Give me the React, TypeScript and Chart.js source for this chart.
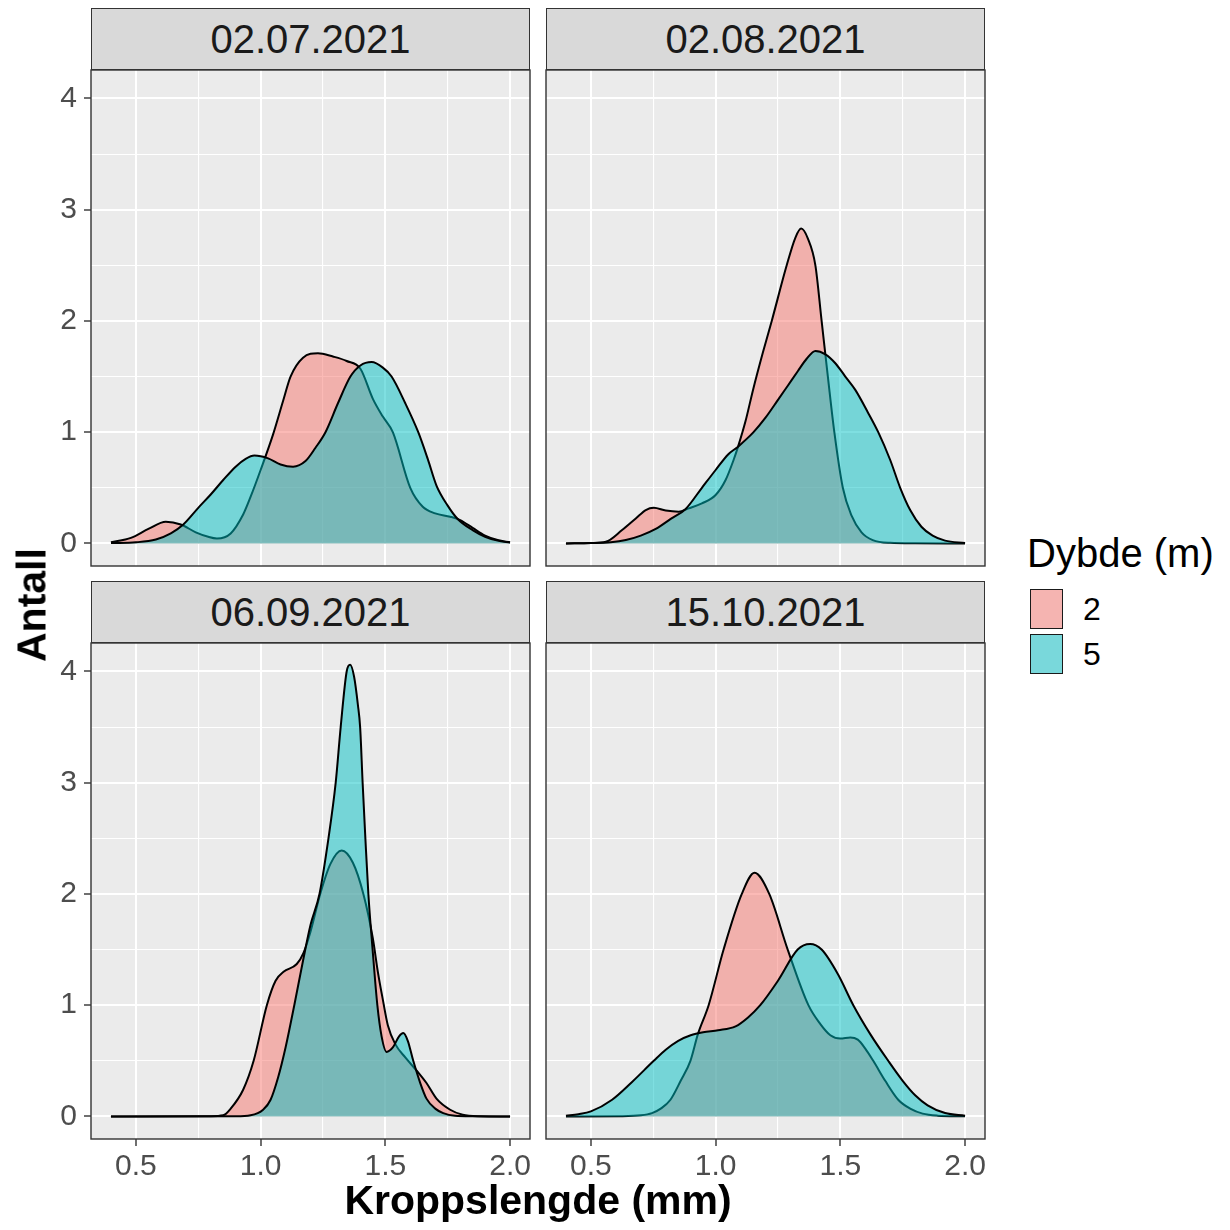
import React, { useEffect, useRef } from "react";
import { Chart, registerables } from "chart.js";

Chart.register(...registerables);

const FONT = '"Liberation Sans", Arial, Helvetica, sans-serif';

// Depth groups and their fills
const DEPTHS = ["2", "5"];
const DEPTH_FILLS = ["rgba(248,118,109,0.5)", "rgba(0,191,196,0.5)"];
const KEY_FILLS = ["rgb(245,180,177)", "rgb(121,216,219)"];

// Sampling dates (one facet each)
const DATES = ["02.07.2021", "02.08.2021", "06.09.2021", "15.10.2021"];

// Axis breaks and limits
const X_MAJOR = [0.5, 1.0, 1.5, 2.0];
const X_MINOR = [0.75, 1.25, 1.75];
const Y_MAJOR = [0, 1, 2, 3, 4];
const Y_MINOR = [0.5, 1.5, 2.5, 3.5];
const X_RANGE = [0.32, 2.08];
const Y_RANGE = [-0.203, 4.256];

// 02.07.2021 — density curves, 2 m and 5 m
const jul2X = [0.40, 0.48, 0.55, 0.62, 0.68, 0.74, 0.79, 0.825, 0.88, 0.93, 0.96, 1.00, 1.05, 1.09, 1.12, 1.17, 1.23, 1.29, 1.345, 1.40, 1.45, 1.49, 1.53, 1.60, 1.65, 1.70, 1.76, 1.80, 1.85, 1.90, 1.95, 2.00];
const jul2Y = [0.01, 0.05, 0.13, 0.195, 0.17, 0.10, 0.06, 0.045, 0.09, 0.26, 0.42, 0.66, 0.98, 1.28, 1.50, 1.67, 1.71, 1.68, 1.64, 1.57, 1.30, 1.14, 1.0, 0.5, 0.33, 0.27, 0.24, 0.21, 0.14, 0.07, 0.03, 0.01];
const jul5X = [0.40, 0.50, 0.58, 0.64, 0.69, 0.75, 0.80, 0.85, 0.90, 0.94, 0.975, 1.03, 1.08, 1.13, 1.18, 1.22, 1.26, 1.31, 1.36, 1.40, 1.445, 1.49, 1.525, 1.58, 1.632, 1.67, 1.705, 1.75, 1.79, 1.85, 1.90, 1.95, 2.00];
const jul5Y = [0.003, 0.01, 0.035, 0.09, 0.17, 0.32, 0.44, 0.57, 0.69, 0.76, 0.79, 0.765, 0.71, 0.69, 0.74, 0.86, 1.0, 1.26, 1.50, 1.60, 1.63, 1.58, 1.50, 1.26, 1.0, 0.76, 0.52, 0.34, 0.22, 0.12, 0.06, 0.025, 0.008];

// 02.08.2021
const aug2X = [0.40, 0.50, 0.56, 0.625, 0.68, 0.72, 0.752, 0.80, 0.852, 0.892, 0.945, 1.00, 1.04, 1.072, 1.09, 1.12, 1.15, 1.19, 1.225, 1.285, 1.32, 1.343, 1.37, 1.40, 1.425, 1.45, 1.476, 1.51, 1.545, 1.585, 1.63, 1.70, 1.80, 2.00];
const aug2Y = [0.0, 0.004, 0.015, 0.12, 0.225, 0.30, 0.32, 0.295, 0.285, 0.315, 0.36, 0.435, 0.57, 0.75, 0.87, 1.10, 1.38, 1.72, 2.0, 2.5, 2.75, 2.83, 2.74, 2.50, 2.0, 1.5, 1.0, 0.5, 0.25, 0.10, 0.03, 0.005, 0.001, 0.0];
const aug5X = [0.40, 0.50, 0.58, 0.64, 0.70, 0.76, 0.82, 0.88, 0.945, 1.00, 1.05, 1.09, 1.152, 1.20, 1.25, 1.29, 1.33, 1.365, 1.40, 1.44, 1.48, 1.52, 1.56, 1.61, 1.652, 1.70, 1.74, 1.78, 1.825, 1.87, 1.92, 2.00];
const aug5Y = [0.0, 0.003, 0.01, 0.03, 0.07, 0.13, 0.22, 0.31, 0.5, 0.66, 0.80, 0.87, 1.0, 1.13, 1.29, 1.42, 1.55, 1.66, 1.73, 1.70, 1.62, 1.50, 1.38, 1.18, 1.0, 0.75, 0.5, 0.30, 0.15, 0.07, 0.025, 0.003];

// 06.09.2021
const sep2X = [0.40, 0.80, 0.85, 0.88, 0.93, 0.972, 1.025, 1.06, 1.092, 1.145, 1.172, 1.20, 1.239, 1.28, 1.325, 1.37, 1.412, 1.45, 1.47, 1.49, 1.51, 1.54, 1.58, 1.63, 1.665, 1.705, 1.76, 1.81, 1.87, 2.00];
const sep2Y = [0, 0.002, 0.01, 0.07, 0.24, 0.5, 1.0, 1.22, 1.30, 1.37, 1.47, 1.66, 2.0, 2.27, 2.39, 2.28, 2.0, 1.60, 1.30, 1.05, 0.82, 0.65, 0.53, 0.40, 0.30, 0.16, 0.06, 0.015, 0.002, 0];
const sep5X = [0.40, 0.90, 0.96, 1.01, 1.04, 1.07, 1.10, 1.135, 1.17, 1.20, 1.236, 1.272, 1.301, 1.321, 1.345, 1.359, 1.375, 1.39, 1.399, 1.409, 1.42, 1.432, 1.449, 1.468, 1.485, 1.505, 1.53, 1.555, 1.572, 1.59, 1.612, 1.64, 1.665, 1.70, 1.732, 1.78, 1.85, 2.00];
const sep5Y = [0, 0.001, 0.01, 0.06, 0.15, 0.35, 0.62, 1.0, 1.40, 1.72, 2.0, 2.5, 3.0, 3.5, 4.0, 4.06, 3.95, 3.70, 3.5, 3.0, 2.5, 2.0, 1.5, 1.0, 0.72, 0.58, 0.62, 0.72, 0.75, 0.68, 0.5, 0.30, 0.16, 0.07, 0.03, 0.006, 0.001, 0];

// 15.10.2021
const oct2X = [0.40, 0.62, 0.70, 0.745, 0.78, 0.819, 0.86, 0.899, 0.929, 0.972, 1.032, 1.105, 1.156, 1.215, 1.289, 1.372, 1.42, 1.46, 1.50, 1.54, 1.57, 1.60, 1.632, 1.68, 1.732, 1.78, 1.83, 1.89, 2.00];
const oct2Y = [0, 0.002, 0.01, 0.03, 0.07, 0.15, 0.32, 0.5, 0.74, 1.0, 1.5, 2.0, 2.19, 2.0, 1.5, 1.0, 0.83, 0.73, 0.70, 0.71, 0.69, 0.61, 0.5, 0.32, 0.15, 0.07, 0.025, 0.007, 0.001];
const oct5X = [0.40, 0.45, 0.50, 0.585, 0.665, 0.752, 0.80, 0.85, 0.90, 0.95, 1.01, 1.08, 1.13, 1.179, 1.25, 1.329, 1.379, 1.425, 1.49, 1.552, 1.62, 1.692, 1.75, 1.80, 1.85, 1.92, 2.00];
const oct5Y = [0.006, 0.02, 0.045, 0.15, 0.31, 0.5, 0.60, 0.68, 0.73, 0.757, 0.775, 0.81, 0.89, 1.0, 1.22, 1.5, 1.55, 1.5, 1.28, 1.0, 0.74, 0.5, 0.32, 0.19, 0.10, 0.03, 0.006];

type Series = { xs: number[]; ys: number[] };

const PLOT_W = 439;
const PLOT_H = 496;
const STRIP_H = 62;
const PAD = 4;
const Y_AXIS_W = 80;
const X_AXIS_H = 50;
const TICK_LEN = 7;

const PANELS = [
  { date: DATES[0], series: [{ xs: jul2X, ys: jul2Y }, { xs: jul5X, ys: jul5Y }], left: 91, top: 70, showX: false, showY: true },
  { date: DATES[1], series: [{ xs: aug2X, ys: aug2Y }, { xs: aug5X, ys: aug5Y }], left: 546, top: 70, showX: false, showY: false },
  { date: DATES[2], series: [{ xs: sep2X, ys: sep2Y }, { xs: sep5X, ys: sep5Y }], left: 91, top: 643, showX: true, showY: true },
  { date: DATES[3], series: [{ xs: oct2X, ys: oct2Y }, { xs: oct5X, ys: oct5Y }], left: 546, top: 643, showX: true, showY: false },
];

// Grey panel background and dark panel border
const panelFrame = {
  id: "panelFrame",
  beforeDraw(chart: any) {
    const { ctx, chartArea: a } = chart;
    ctx.save();
    ctx.fillStyle = "#EBEBEB";
    ctx.fillRect(a.left, a.top, a.right - a.left, a.bottom - a.top);
    ctx.restore();
  },
  afterDraw(chart: any) {
    const { ctx, chartArea: a } = chart;
    ctx.save();
    ctx.strokeStyle = "#333333";
    ctx.lineWidth = 1.4;
    ctx.strokeRect(a.left, a.top, a.right - a.left, a.bottom - a.top);
    ctx.restore();
  },
};

function makeAxis(major: number[], minor: number[], range: number[], show: boolean, horizontal: boolean) {
  const all = [...major, ...minor].sort((a, b) => a - b);
  const isMajor = (v: number) => major.some((m) => Math.abs(m - v) < 1e-9);
  return {
    type: "linear",
    position: horizontal ? "bottom" : "left",
    min: range[0],
    max: range[1],
    bounds: "data",
    afterBuildTicks: (axis: any) => {
      axis.ticks = all.map((v) => ({ value: v }));
    },
    afterFit: (axis: any) => {
      if (horizontal) {
        axis.height = show ? X_AXIS_H : 0;
        axis.paddingLeft = 0;
        axis.paddingRight = 0;
      } else {
        axis.width = show ? Y_AXIS_W : 0;
        axis.paddingTop = 0;
        axis.paddingBottom = 0;
      }
    },
    ticks: {
      display: show,
      autoSkip: false,
      maxRotation: 0,
      minRotation: 0,
      padding: horizontal ? 3 : 7,
      color: "#4D4D4D",
      font: { family: FONT, size: 30 },
      callback: (v: any) => {
        const n = Number(v);
        if (!isMajor(n)) return "";
        return horizontal ? n.toFixed(1) : String(Math.round(n));
      },
    },
    grid: {
      display: true,
      drawOnChartArea: true,
      drawTicks: show,
      tickLength: TICK_LEN,
      color: "#FFFFFF",
      lineWidth: (ctx: any) => (ctx.tick && isMajor(ctx.tick.value) ? 2 : 1.1),
      tickColor: (ctx: any) => (ctx.tick && isMajor(ctx.tick.value) ? "#333333" : "rgba(0,0,0,0)"),
      tickWidth: 1.4,
    },
    border: { display: false },
  };
}

interface PanelProps {
  date: string;
  series: Series[];
  left: number;
  top: number;
  showX: boolean;
  showY: boolean;
}

function Panel(p: PanelProps) {
  const ref = useRef<HTMLCanvasElement>(null);
  const yw = p.showY ? Y_AXIS_W : 0;
  const xh = p.showX ? X_AXIS_H : 0;
  const cw = PAD + yw + PLOT_W + PAD;
  const ch = PAD + PLOT_H + xh + PAD;

  useEffect(() => {
    const canvas = ref.current;
    if (!canvas) return;
    const chart = new Chart(canvas, {
      type: "line",
      data: {
        datasets: p.series.map((s, i) => ({
          label: DEPTHS[i],
          data: s.xs.map((x, j) => ({ x, y: s.ys[j] })),
          borderColor: "#000000",
          borderWidth: 2,
          borderJoinStyle: "round",
          backgroundColor: DEPTH_FILLS[i],
          fill: "origin",
          pointRadius: 0,
          pointHoverRadius: 0,
          cubicInterpolationMode: "monotone",
          order: DEPTHS.length - i,
        })),
      },
      options: {
        responsive: false,
        animation: false,
        events: [],
        layout: { padding: PAD },
        plugins: {
          legend: { display: false },
          tooltip: { enabled: false },
        },
        scales: {
          x: makeAxis(X_MAJOR, X_MINOR, X_RANGE, p.showX, true),
          y: makeAxis(Y_MAJOR, Y_MINOR, Y_RANGE, p.showY, false),
        },
      } as any,
      plugins: [panelFrame],
    });
    return () => chart.destroy();
  }, []);

  return (
    <>
      <div
        style={{
          position: "absolute",
          left: p.left,
          top: p.top - STRIP_H,
          width: PLOT_W,
          height: STRIP_H,
          boxSizing: "border-box",
          background: "#D9D9D9",
          border: "1.4px solid #333333",
          display: "flex",
          alignItems: "center",
          justifyContent: "center",
          fontSize: 40,
          lineHeight: 1,
          color: "#1A1A1A",
        }}
      >
        {p.date}
      </div>
      <canvas
        ref={ref}
        width={cw}
        height={ch}
        style={{ position: "absolute", left: p.left - PAD - yw, top: p.top - PAD, width: cw, height: ch }}
      />
    </>
  );
}

export default function App() {
  return (
    <div
      style={{
        position: "absolute",
        left: 0,
        top: 0,
        width: 1230,
        height: 1230,
        background: "#FFFFFF",
        fontFamily: FONT,
        overflow: "hidden",
      }}
    >
      {PANELS.map((p) => (
        <Panel key={p.date} {...p} />
      ))}

      {/* Axis titles */}
      <div
        style={{
          position: "absolute",
          left: 538,
          top: 1200,
          transform: "translate(-50%, -50%)",
          fontSize: 41,
          fontWeight: "bold",
          lineHeight: 1,
          whiteSpace: "nowrap",
          color: "#000000",
        }}
      >
        Kroppslengde (mm)
      </div>
      <div
        style={{
          position: "absolute",
          left: 32,
          top: 605,
          transform: "translate(-50%, -50%) rotate(-90deg)",
          fontSize: 41,
          fontWeight: "bold",
          lineHeight: 1,
          whiteSpace: "nowrap",
          color: "#000000",
        }}
      >
        Antall
      </div>

      {/* Legend */}
      <div
        style={{
          position: "absolute",
          left: 1027,
          top: 553,
          transform: "translateY(-50%)",
          fontSize: 40,
          lineHeight: 1,
          whiteSpace: "nowrap",
          color: "#000000",
        }}
      >
        Dybde (m)
      </div>
      {DEPTHS.map((d, i) => (
        <React.Fragment key={d}>
          <div
            style={{
              position: "absolute",
              left: 1030,
              top: 589 + i * 45,
              width: 33,
              height: 40,
              boxSizing: "border-box",
              border: "1.8px solid #1A1A1A",
              background: KEY_FILLS[i],
            }}
          />
          <div
            style={{
              position: "absolute",
              left: 1083,
              top: 609 + i * 45,
              transform: "translateY(-50%)",
              fontSize: 32,
              lineHeight: 1,
              color: "#000000",
            }}
          >
            {d}
          </div>
        </React.Fragment>
      ))}
    </div>
  );
}
